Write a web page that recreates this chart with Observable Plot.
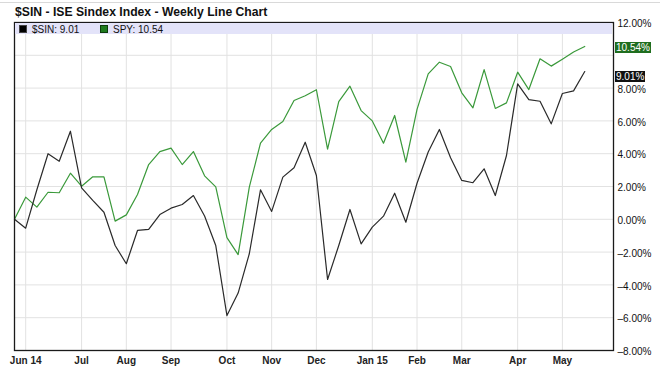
<!DOCTYPE html>
<html>
<head>
<meta charset="utf-8">
<script src="https://cdn.jsdelivr.net/npm/d3@7"></script>
<script src="https://cdn.jsdelivr.net/npm/@observablehq/plot@0.6"></script>
<style>
  html, body { margin: 0; padding: 0; background: #fff; }
  #wrap { position: relative; width: 660px; height: 376px; font-family: "Liberation Sans", Arial, sans-serif; overflow: hidden; }
  #topline { position: absolute; left: 0; top: 2px; width: 660px; height: 0; border-top: 1px solid #d9d9d9; }
  #title { position: absolute; left: 15px; top: 6px; font-size: 12.2px; line-height: 12.2px; font-weight: bold; color: #111; white-space: nowrap; }
  #legend { position: absolute; left: 15px; top: 23px; width: 597px; height: 11px; background: #e3e3f9; }
  .lg { position: absolute; top: 1.5px; font-size: 10px; line-height: 10px; color: #111; white-space: nowrap; }
  .sq { display: inline-block; width: 6px; height: 6px; margin-right: 5px; vertical-align: 0px; }
  .badge { position: absolute; left: 615px; height: 11px; line-height: 11px; font-size: 10px; color: #fff; padding: 0 1px; white-space: nowrap; }
</style>
</head>
<body>
<div id="wrap">
  <div id="topline"></div>
  <div id="chart"></div>
  <div id="title"></div>
  <div id="legend"></div>
</div>
<script>
// ---- data ----
const weeks = [
  "2014-05-26","2014-06-02","2014-06-09","2014-06-16","2014-06-23","2014-06-30",
  "2014-07-07","2014-07-14","2014-07-21","2014-07-28","2014-08-04","2014-08-11",
  "2014-08-18","2014-08-25","2014-09-01","2014-09-08","2014-09-15","2014-09-22",
  "2014-09-29","2014-10-06","2014-10-13","2014-10-20","2014-10-27","2014-11-03",
  "2014-11-10","2014-11-17","2014-11-24","2014-12-01","2014-12-08","2014-12-15",
  "2014-12-22","2014-12-29","2015-01-05","2015-01-12","2015-01-19","2015-01-26",
  "2015-02-02","2015-02-09","2015-02-16","2015-02-23","2015-03-02","2015-03-09",
  "2015-03-16","2015-03-23","2015-03-30","2015-04-06","2015-04-13","2015-04-20",
  "2015-04-27","2015-05-04","2015-05-11","2015-05-18"
];
const sinValues = [
  0, -0.54, 1.8, 4.0, 3.54, 5.37, 1.92, 1.15, 0.43, -1.6,
  -2.71, -0.68, -0.62, 0.29, 0.68, 0.9, 1.45, 0.2, -1.6, -5.87,
  -4.5, -2.1, 1.8, 0.48, 2.57, 3.14, 4.7, 2.67, -3.67, -1.6,
  0.6, -1.5, -0.48, 0.19, 1.59, -0.18, 2.2, 4.1, 5.48, 3.75,
  2.37, 2.23, 3.08, 1.45, 3.89, 8.26, 7.3, 7.2, 5.82, 7.67,
  7.83, 9.01
];
const spyValues = [
  0, 1.35, 0.74, 1.65, 1.62, 2.81, 2.02, 2.59, 2.59, -0.11,
  0.27, 1.51, 3.34, 4.13, 4.34, 3.34, 4.13, 2.65, 1.98, -1.12,
  -2.15, 1.96, 4.64, 5.48, 5.96, 7.24, 7.53, 7.9, 4.28, 7.18,
  8.12, 6.63, 6.0, 4.64, 6.33, 3.48, 6.7, 8.87, 9.58, 9.32,
  7.71, 6.8, 9.13, 6.76, 7.1, 8.97, 7.91, 9.79, 9.34, 9.76,
  10.2, 10.54
];
const seriesNames = ["$SIN", "SPY"];
const seriesColors = ["#2a2a2a", "#3a993a"];
const badgeColors = ["#111111", "#1f6e1f"];
const xTickDates = ["2014-06-02","2014-07-07","2014-08-04","2014-09-01","2014-10-06","2014-11-03",
  "2014-12-01","2015-01-05","2015-02-02","2015-03-02","2015-04-06","2015-05-04"];
const xTickLabels = ["Jun 14","Jul","Aug","Sep","Oct","Nov","Dec","Jan 15","Feb","Mar","Apr","May"];
const yTicks = [-8, -6, -4, -2, 0, 2, 4, 6, 8, 10, 12];
const yHiddenLabels = [10];
const xDomain = ["2014-05-26", "2015-06-05"];
const titleText = "$SIN - ISE Sindex Index - Weekly Line Chart";

// ---- build ----
const parse = d3.utcParse("%Y-%m-%d");
const rows = [];
weeks.forEach((w, i) => {
  rows.push({date: parse(w), value: sinValues[i], series: seriesNames[0]});
  rows.push({date: parse(w), value: spyValues[i], series: seriesNames[1]});
});
const xTicks = xTickDates.map(parse);
const tickLabelOf = new Map(xTicks.map((d, i) => [+d, xTickLabels[i]]));
const fmtY = v => yHiddenLabels.includes(v) ? "" : (v < 0 ? "–" : "") + Math.abs(v).toFixed(2) + "%";

const chart = Plot.plot({
  width: 660,
  height: 376,
  marginTop: 22,
  marginBottom: 26,
  marginLeft: 14,
  marginRight: 47,
  style: {fontFamily: "'Liberation Sans', Arial, sans-serif", background: "transparent", color: "#111"},
  x: {type: "utc", domain: xDomain.map(parse), label: null},
  y: {domain: [-8, 12], label: null},
  color: {domain: seriesNames, range: seriesColors},
  marks: [
    Plot.gridY(yTicks, {stroke: "#e2e2e2", strokeOpacity: 1}),
    Plot.gridX(xTicks, {stroke: "#e2e2e2", strokeOpacity: 1}),
    Plot.lineY(rows.filter(r => r.series === seriesNames[1]), {x: "date", y: "value", stroke: seriesColors[1], strokeWidth: 1.2}),
    Plot.lineY(rows.filter(r => r.series === seriesNames[0]), {x: "date", y: "value", stroke: seriesColors[0], strokeWidth: 1.2}),
    Plot.axisY(yTicks, {anchor: "right", label: null, tickSize: 0, tickPadding: 4, tickFormat: fmtY, fontSize: 10, dy: 1.5, fill: "#111"}),
    Plot.axisX(xTicks, {anchor: "bottom", label: null, tickSize: 0, tickPadding: 6, tickFormat: d => tickLabelOf.get(+d), fontSize: 10, fontWeight: "bold", fill: "#222"}),
    Plot.frame({stroke: "#1a1a1a", strokeWidth: 1.3})
  ]
});
document.getElementById("chart").appendChild(chart);

document.getElementById("title").textContent = titleText;

// legend
const legend = document.getElementById("legend");
const lastSin = sinValues[sinValues.length - 1];
const lastSpy = spyValues[spyValues.length - 1];
const legendItems = [
  {name: seriesNames[0], value: lastSin, color: "#000", border: "#444", left: 4},
  {name: seriesNames[1], value: lastSpy, color: "#1e7a1e", border: "#0c3c0c", left: 85}
];
legendItems.forEach(it => {
  const el = document.createElement("div");
  el.className = "lg";
  el.style.left = it.left + "px";
  const sq = document.createElement("span");
  sq.className = "sq";
  sq.style.background = it.color;
  sq.style.border = "0.5px solid " + it.border;
  el.appendChild(sq);
  el.appendChild(document.createTextNode(it.name + ": " + it.value.toFixed(2)));
  legend.appendChild(el);
});

// last-value badges on the right axis, placed through the y scale
const yScale = chart.scale("y");
const wrap = document.getElementById("wrap");
const ySpy = yScale.apply(lastSpy) + 2;
let ySin = yScale.apply(lastSin) + 2;
if (ySin - ySpy < 29) ySin = ySpy + 29;
[[lastSpy, ySpy, badgeColors[1]], [lastSin, ySin, badgeColors[0]]].forEach(([v, y, c]) => {
  const b = document.createElement("div");
  b.className = "badge";
  b.style.top = (y - 5.5) + "px";
  b.style.background = c;
  b.textContent = v.toFixed(2) + "%";
  wrap.appendChild(b);
});
</script>
</body>
</html>
